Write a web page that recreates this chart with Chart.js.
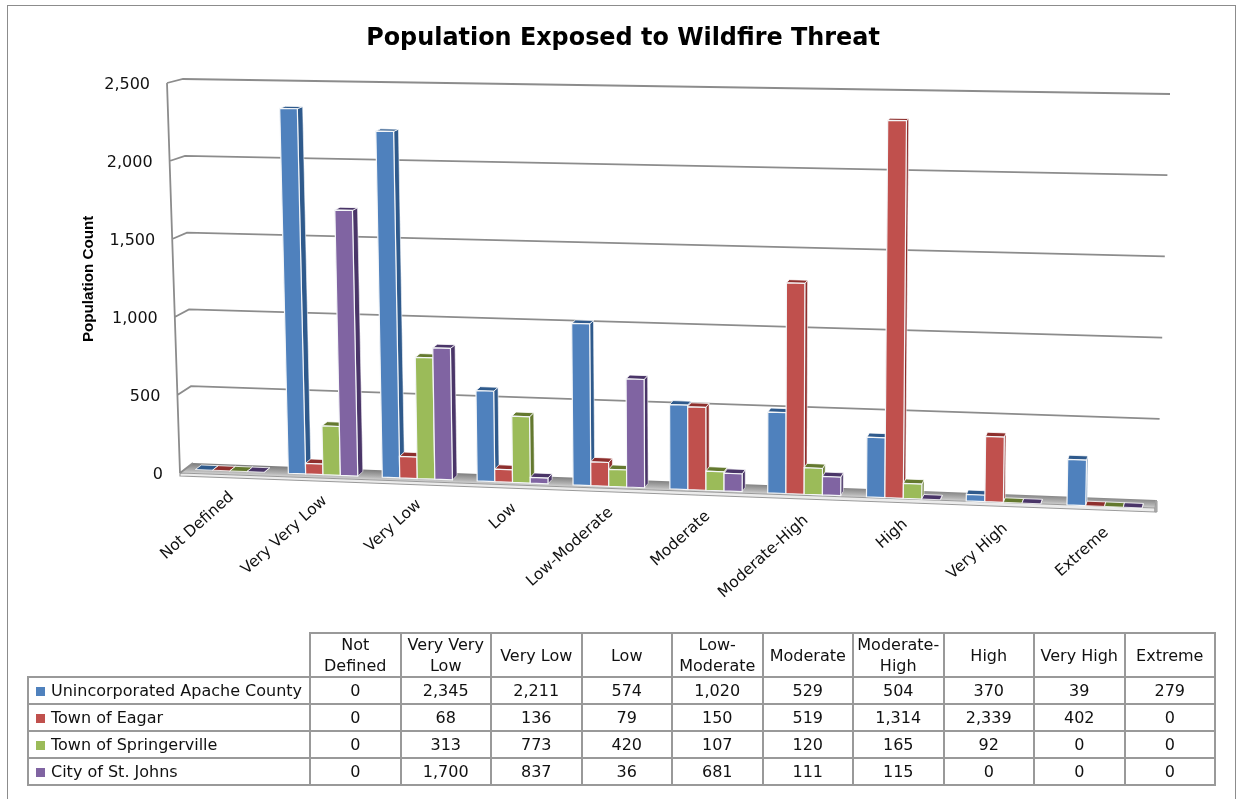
<!DOCTYPE html>
<html>
<head>
<meta charset="utf-8">
<title>Population Exposed to Wildfire Threat</title>
<script src="https://cdn.jsdelivr.net/npm/chart.js@4/dist/chart.umd.js"></script>
<style>
  html, body { margin: 0; padding: 0; background: #fff; overflow: hidden; }
  #frame { position: absolute; left: 7px; top: 5px; width: 1227px; height: 800px; border: 1.5px solid #8c8c8c; }
  #counterChart { position: absolute; left: 0; top: 0; }
  #dataTable { position: absolute; left: 27px; top: 632px; border-collapse: collapse; table-layout: fixed;
    font-family: "DejaVu Sans", sans-serif; font-size: 16px; color: #111; width: 1189px; }
  #dataTable td, #dataTable th { border: 2px solid #999; text-align: center; font-weight: normal; padding: 0; height: 25px; line-height: 21px; white-space: normal; }
  #dataTable th { height: 42px; }
  #dataTable th.blank { border-left: none; border-top: none; }
  #dataTable td.name { text-align: left; white-space: nowrap; padding-left: 7px; }
  .key { display: inline-block; width: 9px; height: 9px; margin-right: 6px; }
</style>
</head>
<body>
<div id="frame"></div>
<canvas id="counterChart" width="1236" height="799"></canvas>
<table id="dataTable"></table>
<script>
const categories = ['Not Defined', 'Very Very Low', 'Very Low', 'Low', 'Low-Moderate', 'Moderate', 'Moderate-High', 'High', 'Very High', 'Extreme'];
const apache = [0, 2345, 2211, 574, 1020, 529, 504, 370, 39, 279];
const eagar = [0, 68, 136, 79, 150, 519, 1314, 2339, 402, 0];
const springerville = [0, 313, 773, 420, 107, 120, 165, 92, 0, 0];
const stJohns = [0, 1700, 837, 36, 681, 111, 115, 0, 0, 0];
const seriesNames = ['Unincorporated Apache County', 'Town of Eagar', 'Town of Springerville', 'City of St. Johns'];

const colors = ['#4F81BD', '#C0504D', '#9BBB59', '#8064A2'];
const darkColors = ['#2F5A8C', '#8E2F2D', '#64792F', '#4A3568'];
const allSeries = [apache, eagar, springerville, stJohns];

function lerp(a, b, t) { return a + (b - a) * t; }

// where the bar fronts sit on the page: u along the categories, v up the value axis
function front(u, v) {
    const w = u * (0.95 + 0.05 * u); // slight perspective, groups get wider to the right
    const bx = lerp(183.4, 1155.4, w), by = lerp(469, 508.5, w);
    const tx = lerp(172, 1164, w), ty = lerp(82.5, 99, w);
    return [lerp(bx, tx, v), lerp(by, ty, v)];
}

function back(p, u, v) {
    return [p[0] + 1 + 5 * (1 - u), p[1] - (2 + 2.5 * (1 - v))];
}

// walls
const wallFront = v => [lerp(180, 167, v), lerp(473, 83, v)];
const wallBackL = v => [lerp(193, 183, v), lerp(463, 79, v)];
const wallBackR = v => [lerp(1157, 1170, v), lerp(500, 94, v)];

function poly(ctx, pts, fill, stroke, lw) {
    ctx.beginPath();
    pts.forEach((p, i) => i ? ctx.lineTo(p[0], p[1]) : ctx.moveTo(p[0], p[1]));
    ctx.closePath();
    if (fill) { ctx.fillStyle = fill; ctx.fill(); }
    if (stroke) { ctx.strokeStyle = stroke; ctx.lineWidth = lw || 1; ctx.stroke(); }
}

const threeD = {
    id: 'threeD',
    beforeDatasetsDraw(chart) {
        const ctx = chart.ctx;
        const area = chart.chartArea;
        const yScale = chart.scales.y;
        const xScale = chart.scales.x;
        const toV = y => (area.bottom - y) / (area.bottom - area.top);
        const toU = x => (x - area.left) / (area.right - area.left);

        ctx.save();
        // floor
        const grad = ctx.createLinearGradient(668, 481, 668 - 0.4, 481 + 11);
        grad.addColorStop(0, '#7f7f7f');
        grad.addColorStop(0.6, '#b4b4b4');
        grad.addColorStop(1, '#e6e6e6');
        poly(ctx, [[180, 473], [193, 463], [1156, 500], [1155, 508]], grad);
        poly(ctx, [[180, 473], [1155, 508], [1155, 512], [180, 476]], '#ececec', '#9a9a9a', 1.2);
        poly(ctx, [[1155, 508], [1156, 500], [1157, 501], [1157, 512], [1155, 512]], '#b5b5b5', '#9a9a9a', 1);

        // gridlines and left wall
        ctx.strokeStyle = '#8c8c8c';
        ctx.lineWidth = 1.8;
        ctx.beginPath();
        let a = wallFront(0), b = wallFront(1);
        ctx.moveTo(a[0], a[1]);
        ctx.lineTo(b[0], b[1]);
        yScale.ticks.forEach(t => {
            const v = toV(yScale.getPixelForValue(t.value));
            const p0 = wallFront(v), p1 = wallBackL(v), p2 = wallBackR(v);
            ctx.moveTo(p0[0], p0[1]);
            ctx.lineTo(p1[0], p1[1]);
            if (t.value > 0) ctx.lineTo(p2[0], p2[1]);
        });
        ctx.stroke();

        // value labels follow the slanted axis
        ctx.fillStyle = '#111';
        ctx.font = '16px "DejaVu Sans"';
        ctx.textAlign = 'right';
        ctx.textBaseline = 'middle';
        yScale.ticks.forEach(t => {
            const v = toV(yScale.getPixelForValue(t.value));
            const p = wallFront(v);
            ctx.fillText(t.label, p[0] - 17, p[1] + 2);
        });

        // category labels
        ctx.font = '15.5px "DejaVu Sans"';
        categories.forEach((c, i) => {
            const u = toU(xScale.getPixelForValue(i));
            const p = front(u, 0);
            ctx.save();
            ctx.translate(p[0] + 2, p[1] + 24);
            ctx.rotate(-42 * Math.PI / 180);
            ctx.textAlign = 'right';
            ctx.fillText(c, 0, 0);
            ctx.restore();
        });

        // bars, left series first so the next bar covers the side of the one before
        for (let c = 0; c < categories.length; c++) {
            chart.data.datasets.forEach((ds, d) => {
                const el = chart.getDatasetMeta(d).data[c];
                const ul = toU(el.x - el.width / 2), ur = toU(el.x + el.width / 2);
                const v0 = toV(el.base), v1 = toV(el.y);
                const bl = front(ul, v0), br = front(ur, v0), tl = front(ul, v1), tr = front(ur, v1);
                const tl2 = back(tl, ul, v1), tr2 = back(tr, ur, v1), br2 = back(br, ur, v0);
                poly(ctx, [br, tr, tr2, br2], darkColors[d], '#fff', 0.6);
                poly(ctx, [tl, tr, tr2, tl2], darkColors[d], '#fff', 0.8);
                if (ds.data[c] > 0) poly(ctx, [bl, br, tr, tl], ds.backgroundColor, '#f4f6f8', 1.2);
            });
        }
        ctx.restore();
        return false; // flat bars are replaced by the ones above
    }
};

new Chart(document.getElementById('counterChart').getContext('2d'), {
    type: 'bar',
    data: {
        labels: categories,
        datasets: allSeries.map((s, i) => ({
            label: seriesNames[i],
            data: s,
            backgroundColor: colors[i],
            categoryPercentage: 0.74,
            barPercentage: 1
        }))
    },
    options: {
        responsive: false,
        animation: false,
        layout: { padding: { left: 80, right: 70, top: 0, bottom: 318 } },
        plugins: {
            legend: { display: false },
            tooltip: { enabled: false },
            title: {
                display: true,
                text: 'Population Exposed to Wildfire Threat',
                color: '#000',
                font: { family: '"DejaVu Sans"', size: 23.9, weight: 'bold' },
                padding: { top: 24, bottom: 24 }
            }
        },
        scales: {
            x: { display: false },
            y: {
                min: 0,
                max: 2500,
                ticks: { stepSize: 500, display: false },
                grid: { display: false },
                border: { display: false },
                title: {
                    display: true,
                    text: 'Population Count',
                    color: '#000',
                    font: { family: '"Liberation Sans"', size: 15.2, weight: 'bold' },
                    padding: { top: 0, bottom: 70 }
                }
            }
        }
    },
    plugins: [threeD]
});

// data table under the chart
const table = document.getElementById('dataTable');
let html = '<colgroup><col style="width:282px">' + categories.map(() => '<col>').join('') + '</colgroup>';
html += '<tr><th class="blank"></th>' + categories.map(c => '<th>' + c + '</th>').join('') + '</tr>';
allSeries.forEach((s, i) => {
    html += '<tr><td class="name"><span class="key" style="background:' + colors[i] + '"></span>' + seriesNames[i] + '</td>';
    html += s.map(v => '<td>' + v.toLocaleString('en-US') + '</td>').join('') + '</tr>';
});
table.innerHTML = html;
</script>
</body>
</html>
